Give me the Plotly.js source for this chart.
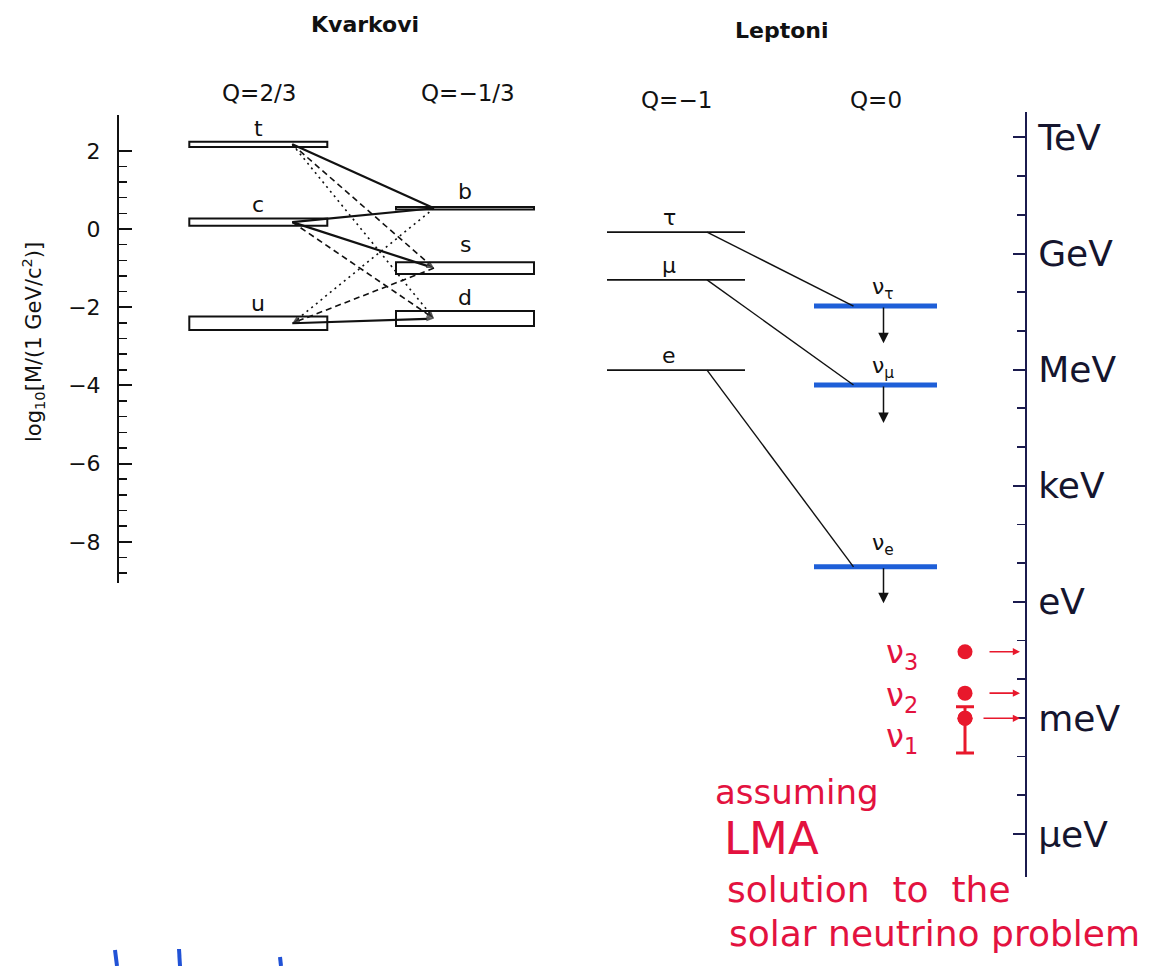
<!DOCTYPE html>
<html><head><meta charset="utf-8">
<script src="https://cdn.plot.ly/plotly-3.0.1.min.js"></script>
<style>html,body{margin:0;padding:0;background:#fff}#chart{width:1153px;height:966px}</style>
</head><body><div id="chart"></div>
<script>
// ---------------- data: log10 of mass in GeV/c^2 ----------------
const upNames   = ['t', 'c', 'u'];
const upLo      = [2.10, 0.08, -2.58];
const upHi      = [2.23, 0.27, -2.24];
const downNames = ['b', 's', 'd'];
const downLo    = [0.50, -1.15, -2.48];
const downHi    = [0.56, -0.85, -2.10];
const mixFrom   = ['t', 't', 't', 'c', 'c', 'c', 'u', 'u', 'u'];
const mixTo     = ['b', 's', 'd', 'b', 's', 'd', 'd', 's', 'b'];
const mixStyle  = ['solid', 'dash', 'dot', 'solid', 'solid', 'dash', 'solid', 'dash', 'dot'];
const mixArrow  = ['none', 'down', 'down', 'none', 'down', 'down', 'down', 'up', 'up'];
const leptonNames = ['τ', 'μ', 'e'];
const leptonMass  = [-0.08, -1.30, -3.61];
const nuNames    = ['ν<sub>τ</sub>', 'ν<sub>μ</sub>', 'ν<sub>e</sub>'];
const nuLimit    = [-1.97, -3.99, -8.64];
const nuArrowTip = [-2.92, -4.96, -9.57];
const chargeLabels = ['Q=2/3', 'Q=−1/3', 'Q=−1', 'Q=0'];
const groupLabels  = ['Kvarkovi', 'Leptoni'];
const massAxisTitle = 'log<sub>10</sub>[M/(1 GeV/c<sup>2</sup>)]';
// hand-drawn energy scale on the right, log10(E / GeV)
const energyTickVals = [3, 0, -3, -6, -9, -12, -15];
const energyTickText = ['TeV', 'GeV', 'MeV', 'keV', 'eV', 'meV', 'μeV'];
const lmaNames   = ['ν<sub>3</sub>', 'ν<sub>2</sub>', 'ν<sub>1</sub>'];
const lmaMass    = [-10.29, -11.36, -12.01];
const lmaErrUp   = [0, 0, 0.30];
const lmaErrDown = [0, 0, 0.90];
const noteLines  = ['assuming', 'LMA', 'solution  to  the', 'solar neutrino problem'];

// ---------------- layout constants (pixels of the 1153x966 page) ----------------
const W = 1153, H = 966;
const L = {zeroPx: 229, pxPerUnit: 39.1, topPx: 115, botPx: 583, xPx: 118};
const R = {zeroPx: 253.5, pxPerUnit: 38.7, topPx: 112, botPx: 877, xPx: 1026};
const COL = {up: 258.3, down: 465, lep: 676, nu: 875.5};
const BOX_HALF = 69, LEP_HALF = 69, NU_HALF = 61.5;
const UP_END_X = COL.up + 34, DOWN_END_X = COL.down - 31;
const LEP_END_X = COL.lep + 31, NU_END_X = COL.nu - 22, NU_ARROW_X = COL.nu + 8;
const LMA_X = 965, LMA_ARROW_TAIL = [988, 988, 982], LMA_ARROW_HEAD = 1020, LMA_LABEL_X = 902;
const LMA_LABEL_SHIFT = [-2, -4, -20];

const FONT = 'DejaVu Sans, Liberation Sans, Arial, sans-serif';
const INK = '#111111';
const NAVY = '#1b1b4e';
const NU_BLUE = '#1e5fd8';
const RED = '#e8182c';
const NOTE_RED = '#e3123f';
const BLUE_PEN = '#2152d6';

const valL = px => (L.zeroPx - px) / L.pxPerUnit;
const valR = px => (R.zeroPx - px) / R.pxPerUnit;
const dom = (top, bot) => [1 - bot / H, 1 - top / H];
const px2x = p => p / W, py2y = p => 1 - p / H;

const traces = [];
function boxes(names, lo, hi, cx) {
  return {type: 'bar', x: names.map(() => cx), base: lo, y: hi.map((h, i) => h - lo[i]),
    width: names.map(() => 2 * BOX_HALF), marker: {color: 'white', line: {color: INK, width: 2}},
    hoverinfo: 'skip', xaxis: 'x', yaxis: 'y'};
}
traces.push(boxes(upNames, upLo, upHi, COL.up));
traces.push(boxes(downNames, downLo, downHi, COL.down));

// CKM mixing lines
const quarkY = {};
upNames.forEach((n, i) => quarkY[n] = (upLo[i] + upHi[i]) / 2);
downNames.forEach((n, i) => quarkY[n] = (downLo[i] + downHi[i]) / 2);
const dashMap = {solid: 'solid', dash: '6px,4px', dot: '2px,4px'};
mixFrom.forEach((u, i) => {
  const d = mixTo[i];
  let xs = [UP_END_X, DOWN_END_X], ys = [quarkY[u], quarkY[d]];
  if (mixArrow[i] === 'up') { xs = xs.reverse(); ys = ys.reverse(); }
  traces.push({type: 'scatter', mode: mixArrow[i] === 'none' ? 'lines' : 'lines+markers',
    x: xs, y: ys, xaxis: 'x', yaxis: 'y',
    line: {color: INK, width: mixStyle[i] === 'solid' ? 2.2 : 1.6, dash: dashMap[mixStyle[i]]},
    marker: {symbol: 'arrow', size: [0, 8], angleref: 'previous', color: INK, line: {width: 0}},
    hoverinfo: 'skip'});
});

// charged leptons
const lx = [], ly = [];
leptonMass.forEach(m => { lx.push(COL.lep - LEP_HALF, COL.lep + LEP_HALF, null); ly.push(m, m, null); });
traces.push({type: 'scatter', mode: 'lines', x: lx, y: ly, line: {color: INK, width: 1.6}, hoverinfo: 'skip'});
// neutrino upper limits
const nx = [], ny = [];
nuLimit.forEach(m => { nx.push(COL.nu - NU_HALF, COL.nu + NU_HALF, null); ny.push(m, m, null); });
traces.push({type: 'scatter', mode: 'lines', x: nx, y: ny, line: {color: NU_BLUE, width: 5}, hoverinfo: 'skip'});
// lepton -> neutrino connections
const cx = [], cy = [];
leptonMass.forEach((m, i) => { cx.push(LEP_END_X, NU_END_X, null); cy.push(m, nuLimit[i], null); });
traces.push({type: 'scatter', mode: 'lines', x: cx, y: cy, line: {color: INK, width: 1.4}, hoverinfo: 'skip'});

// dummy trace so the left scale is drawn
traces.push({type: 'scatter', mode: 'markers', x: [null], y: [null], xaxis: 'x', yaxis: 'y2', hoverinfo: 'skip'});

// LMA neutrino masses on the energy scale
traces.push({type: 'scatter', mode: 'markers', x: lmaMass.map(() => LMA_X), y: lmaMass, xaxis: 'x', yaxis: 'y3',
  marker: {color: RED, size: 15}, hoverinfo: 'skip'});
const errIdx = lmaMass.map((m, i) => i).filter(i => lmaErrUp[i] > 0 || lmaErrDown[i] > 0);
traces.push({type: 'scatter', mode: 'markers', x: errIdx.map(() => LMA_X), y: errIdx.map(i => lmaMass[i]),
  xaxis: 'x', yaxis: 'y3', marker: {color: RED, size: 15},
  error_y: {type: 'data', symmetric: false, array: errIdx.map(i => lmaErrUp[i]), arrayminus: errIdx.map(i => lmaErrDown[i]),
    color: RED, thickness: 3, width: 9}, hoverinfo: 'skip'});

// ---------------- annotations ----------------
const ann = [];
// downward arrows under the neutrino limits
nuLimit.forEach((m, i) => ann.push({x: NU_ARROW_X, y: nuArrowTip[i], ax: NU_ARROW_X, ay: m, xref: 'x', yref: 'y',
  axref: 'x', ayref: 'y', text: '', showarrow: true, arrowhead: 2, arrowsize: 1.4, arrowwidth: 1.5, arrowcolor: INK, standoff: 0}));
// red arrows pointing to the energy scale
lmaMass.forEach((m, i) => ann.push({x: LMA_ARROW_HEAD, y: m, ax: LMA_ARROW_TAIL[i], ay: m, xref: 'x', yref: 'y3',
  axref: 'x', ayref: 'y3', text: '', showarrow: true, arrowhead: 2, arrowsize: 0.9, arrowwidth: 1.6, arrowcolor: RED, standoff: 0}));

const labelFont = {family: FONT, size: 22, color: INK};
upNames.forEach((n, i) => ann.push({x: COL.up, y: upHi[i], xref: 'x', yref: 'y', text: n, showarrow: false,
  xanchor: 'center', yanchor: 'bottom', yshift: -1, font: labelFont}));
downNames.forEach((n, i) => ann.push({x: COL.down, y: downHi[i], xref: 'x', yref: 'y', text: n, showarrow: false,
  xanchor: 'center', yanchor: 'bottom', yshift: n === 's' ? 3 : (n === 'b' ? 1 : -1), font: labelFont}));
leptonNames.forEach((n, i) => ann.push({x: COL.lep - 7, y: leptonMass[i], xref: 'x', yref: 'y', text: n, showarrow: false,
  xanchor: 'center', yanchor: 'bottom', yshift: 0, font: labelFont}));
nuNames.forEach((n, i) => ann.push({x: COL.nu + 7, y: nuLimit[i], xref: 'x', yref: 'y', text: n, showarrow: false,
  xanchor: 'center', yanchor: 'bottom', yshift: n.indexOf('>e<') >= 0 ? 6 : 1, font: labelFont}));

// group & charge headings
const headPos = [[COL.up + 1, 93], [COL.down + 3, 93], [COL.lep, 100], [COL.nu, 100]];
chargeLabels.forEach((t, i) => ann.push({x: px2x(headPos[i][0]), y: py2y(headPos[i][1]), xref: 'paper', yref: 'paper',
  xanchor: 'center', yanchor: 'middle', text: t, showarrow: false, font: {family: FONT, size: 23, color: INK}}));
const groupPos = [[365, 25], [782, 31]];
groupLabels.forEach((t, i) => ann.push({x: px2x(groupPos[i][0]), y: py2y(groupPos[i][1]), xref: 'paper', yref: 'paper',
  xanchor: 'center', yanchor: 'middle', text: t, showarrow: false, font: {family: FONT, size: 22, color: INK, weight: 'bold'}}));
// left axis title
ann.push({x: px2x(33), y: py2y(342), xref: 'paper', yref: 'paper', xanchor: 'center', yanchor: 'middle',
  text: massAxisTitle, textangle: -90, showarrow: false, font: {family: FONT, size: 21, color: INK}});

// red handwritten notes
lmaNames.forEach((n, i) => ann.push({x: LMA_LABEL_X, y: lmaMass[i], xref: 'x', yref: 'y3', text: n, showarrow: false,
  xanchor: 'center', yanchor: 'middle', yshift: LMA_LABEL_SHIFT[i], font: {family: FONT, size: 32, color: NOTE_RED}}));
const notePos = [[713, 792, 34], [722, 838, 45], [725, 889, 36], [727, 933, 36]];
noteLines.forEach((t, i) => ann.push({x: px2x(notePos[i][0]), y: py2y(notePos[i][1]), xref: 'paper', yref: 'paper',
  xanchor: 'left', yanchor: 'middle', text: t, showarrow: false, font: {family: FONT, size: notePos[i][2], color: NOTE_RED}}));

// ---------------- minor tick positions ----------------
const leftMinor = [];
for (let k = -22; k <= 4; k++) if (k % 5 !== 0) leftMinor.push(+(k * 0.4).toFixed(2));
const rightMinor = [];
for (let k = -14; k <= 2; k++) if (k % 3 !== 0) rightMinor.push(k);

// blue pen strokes at the bottom edge
const strokes = [[115, 950, 117, 966], [179, 949, 180, 966], [280, 957, 281, 966]];
const shapes = strokes.map(s => ({type: 'line', xref: 'paper', yref: 'paper', x0: px2x(s[0]), y0: py2y(s[1]),
  x1: px2x(s[2]), y1: py2y(s[3]), line: {color: BLUE_PEN, width: 4}}));

const layout = {
  width: W, height: H, margin: {l: 0, r: 0, t: 0, b: 0, pad: 0},
  paper_bgcolor: 'white', plot_bgcolor: 'rgba(0,0,0,0)', showlegend: false, barmode: 'overlay',
  font: {family: FONT, color: INK},
  xaxis: {domain: [0, 1], range: [0, W], visible: false, fixedrange: true, anchor: 'y'},
  yaxis: {domain: [0, 1], range: [valL(H), valL(0)], visible: false, fixedrange: true, anchor: 'x'},
  yaxis2: {domain: dom(L.topPx, L.botPx), range: [valL(L.botPx), valL(L.topPx)], anchor: 'free', position: px2x(L.xPx),
    side: 'left', showline: true, linecolor: INK, linewidth: 2, showgrid: false, zeroline: false,
    ticks: 'inside', ticklen: 13, tickwidth: 2, tickcolor: INK, tickmode: 'linear', tick0: 0, dtick: 2,
    ticklabelstandoff: 12, tickfont: {family: FONT, size: 22, color: INK},
    minor: {tickmode: 'array', tickvals: leftMinor, ticks: 'inside', ticklen: 8, tickwidth: 1.5, tickcolor: INK, showgrid: false},
    fixedrange: true},
  yaxis3: {domain: dom(R.topPx, R.botPx), range: [valR(R.botPx), valR(R.topPx)], anchor: 'free', position: px2x(R.xPx),
    side: 'right', showline: true, linecolor: NAVY, linewidth: 2, showgrid: false, zeroline: false,
    ticks: 'inside', ticklen: 12, tickwidth: 2, tickcolor: NAVY, tickmode: 'array',
    tickvals: energyTickVals, ticktext: energyTickText, ticklabelstandoff: 4,
    tickfont: {family: FONT, size: 36, color: '#15152e'},
    minor: {tickmode: 'array', tickvals: rightMinor, ticks: 'inside', ticklen: 8, tickwidth: 1.8, tickcolor: NAVY, showgrid: false},
    fixedrange: true},
  annotations: ann,
  shapes: shapes
};
Plotly.newPlot('chart', traces, layout, {displayModeBar: false, staticPlot: true});
</script>
</body></html>
